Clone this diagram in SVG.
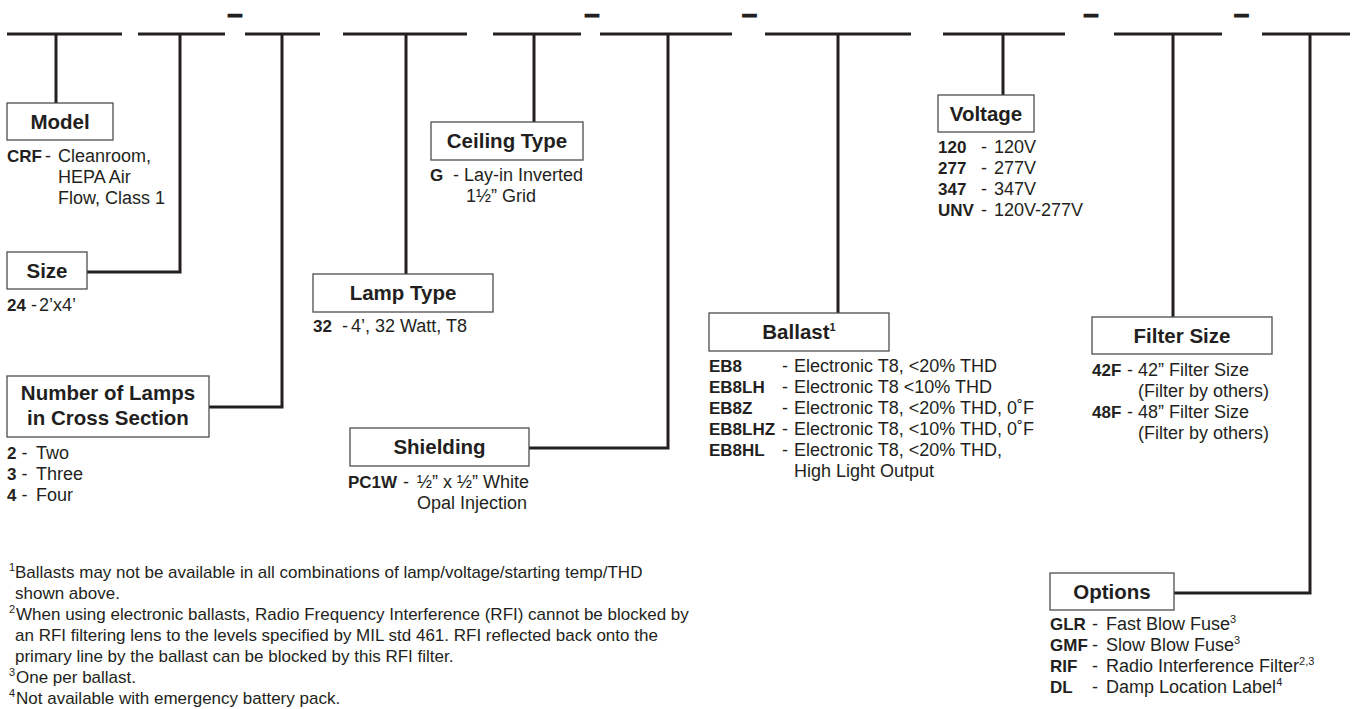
<svg xmlns="http://www.w3.org/2000/svg" width="1356" height="709" viewBox="0 0 1356 709">
<style>
.ln{stroke:#231f20;stroke-width:3;fill:none}
.bx{fill:#fff;stroke:#4d4d4d;stroke-width:1.3}
text{font-family:"Liberation Sans",Arial,sans-serif;fill:#231f20}
.t{font-size:18px}
.b{font-weight:bold;font-size:17px}
.h{font-size:20.5px;font-weight:bold;text-anchor:middle}
.fn{font-size:17px}
.sup{font-size:11px}
.dash{font-size:22px;font-weight:bold;text-anchor:middle;stroke:#231f20;stroke-width:1.2}
</style>
<rect width="1356" height="709" fill="#fff"/>
<g id="code-line">
<line class="ln" x1="7" y1="34" x2="122" y2="34"/>
<line class="ln" x1="138" y1="34" x2="225" y2="34"/>
<line class="ln" x1="245" y1="34" x2="320" y2="34"/>
<line class="ln" x1="343" y1="34" x2="467" y2="34"/>
<line class="ln" x1="493" y1="34" x2="581" y2="34"/>
<line class="ln" x1="600" y1="34" x2="732" y2="34"/>
<line class="ln" x1="765" y1="34" x2="911" y2="34"/>
<line class="ln" x1="943" y1="34" x2="1065" y2="34"/>
<line class="ln" x1="1114" y1="34" x2="1222" y2="34"/>
<line class="ln" x1="1262" y1="34" x2="1350" y2="34"/>
<text class="dash" x="235" y="20.5" textLength="16" lengthAdjust="spacingAndGlyphs">-</text>
<text class="dash" x="592" y="20.5" textLength="16" lengthAdjust="spacingAndGlyphs">-</text>
<text class="dash" x="749.5" y="20.5" textLength="16" lengthAdjust="spacingAndGlyphs">-</text>
<text class="dash" x="1091" y="20.5" textLength="16" lengthAdjust="spacingAndGlyphs">-</text>
<text class="dash" x="1241.5" y="20.5" textLength="16" lengthAdjust="spacingAndGlyphs">-</text>
</g>
<g id="connectors">
<polyline class="ln" points="56,34 56,103"/>
<polyline class="ln" points="180,34 180,272 87,272"/>
<polyline class="ln" points="282,34 282,407 209,407"/>
<polyline class="ln" points="406,34 406,274"/>
<polyline class="ln" points="534,34 534,122"/>
<polyline class="ln" points="668,34 668,448 529,448"/>
<polyline class="ln" points="838,34 838,313"/>
<polyline class="ln" points="1003,34 1003,95"/>
<polyline class="ln" points="1173,34 1173,317"/>
<polyline class="ln" points="1310,34 1310,593 1174,593"/>
</g>
<g id="model">
<rect class="bx" x="7" y="103" width="106" height="37"/>
<text class="h" x="60" y="129">Model</text>
<text class="b" x="7" y="162">CRF</text><text class="t" x="45" y="162">-</text>
<text class="t" x="58" y="162">Cleanroom,</text>
<text class="t" x="58" y="183">HEPA Air</text>
<text class="t" x="58" y="204">Flow, Class 1</text>
</g>
<g id="size">
<rect class="bx" x="7" y="252" width="80" height="37"/>
<text class="h" x="47" y="278">Size</text>
<text class="t" x="7" y="311"><tspan class="b">24</tspan> -<tspan x="39">2’x4’</tspan></text>
</g>
<g id="lamps">
<rect class="bx" x="7" y="376" width="202" height="61"/>
<text class="h" x="108" y="400">Number of Lamps</text>
<text class="h" x="108" y="425">in Cross Section</text>
<text class="t" x="7" y="459"><tspan class="b">2</tspan> -<tspan x="36">Two</tspan></text>
<text class="t" x="7" y="480"><tspan class="b">3</tspan> -<tspan x="36">Three</tspan></text>
<text class="t" x="7" y="501"><tspan class="b">4</tspan> -<tspan x="36">Four</tspan></text>
</g>
<g id="lamp-type">
<rect class="bx" x="313" y="274" width="180" height="38"/>
<text class="h" x="403" y="300">Lamp Type</text>
<text class="t" x="313" y="332"><tspan class="b">32</tspan><tspan x="342">-</tspan><tspan x="351">4’, 32 Watt, T8</tspan></text>
</g>
<g id="ceiling-type">
<rect class="bx" x="431" y="122" width="152" height="38"/>
<text class="h" x="507" y="148">Ceiling Type</text>
<text class="t" x="430" y="181"><tspan class="b">G</tspan><tspan x="453">-</tspan><tspan x="464">Lay-in Inverted</tspan></text>
<text class="t" x="466" y="202">1½” Grid</text>
</g>
<g id="shielding">
<rect class="bx" x="350" y="428" width="179" height="38"/>
<text class="h" x="439.5" y="454">Shielding</text>
<text class="t" x="348" y="488"><tspan class="b">PC1W</tspan><tspan x="403">-</tspan><tspan x="417">½” x ½” White</tspan></text>
<text class="t" x="417" y="509">Opal Injection</text>
</g>
<g id="ballast">
<rect class="bx" x="709" y="313" width="180" height="38"/>
<text class="h" x="799" y="339">Ballast<tspan class="sup" dy="-8">1</tspan></text>
<text class="b" x="709" y="372">EB8</text><text class="t" x="782" y="372">-</text><text class="t" x="794" y="372">Electronic T8, &lt;20% THD</text>
<text class="b" x="709" y="393">EB8LH</text><text class="t" x="782" y="393">-</text><text class="t" x="794" y="393">Electronic T8 &lt;10% THD</text>
<text class="b" x="709" y="414">EB8Z</text><text class="t" x="782" y="414">-</text><text class="t" x="794" y="414">Electronic T8, &lt;20% THD, 0˚F</text>
<text class="b" x="709" y="435">EB8LHZ</text><text class="t" x="782" y="435">-</text><text class="t" x="794" y="435">Electronic T8, &lt;10% THD, 0˚F</text>
<text class="b" x="709" y="456">EB8HL</text><text class="t" x="782" y="456">-</text><text class="t" x="794" y="456">Electronic T8, &lt;20% THD,</text>
<text class="t" x="794" y="477">High Light Output</text>
</g>
<g id="voltage">
<rect class="bx" x="938" y="95" width="96" height="37"/>
<text class="h" x="986" y="121">Voltage</text>
<text class="b" x="938" y="153">120</text><text class="t" x="981" y="153">-</text><text class="t" x="994" y="153">120V</text>
<text class="b" x="938" y="174">277</text><text class="t" x="981" y="174">-</text><text class="t" x="994" y="174">277V</text>
<text class="b" x="938" y="195">347</text><text class="t" x="981" y="195">-</text><text class="t" x="994" y="195">347V</text>
<text class="b" x="938" y="216">UNV</text><text class="t" x="981" y="216">-</text><text class="t" x="994" y="216">120V-277V</text>
</g>
<g id="filter-size">
<rect class="bx" x="1092" y="317" width="180" height="37"/>
<text class="h" x="1182" y="343">Filter Size</text>
<text class="b" x="1092" y="376">42F</text><text class="t" x="1127" y="376">-</text><text class="t" x="1138" y="376">42” Filter Size</text>
<text class="t" x="1138" y="397">(Filter by others)</text>
<text class="b" x="1092" y="418">48F</text><text class="t" x="1127" y="418">-</text><text class="t" x="1138" y="418">48” Filter Size</text>
<text class="t" x="1138" y="439">(Filter by others)</text>
</g>
<g id="options">
<rect class="bx" x="1050" y="573" width="124" height="37"/>
<text class="h" x="1112" y="599">Options</text>
<text class="b" x="1050" y="630">GLR</text><text class="t" x="1092" y="630">-</text><text class="t" x="1106" y="630">Fast Blow Fuse<tspan class="sup" dy="-7">3</tspan></text>
<text class="b" x="1050" y="651">GMF</text><text class="t" x="1092" y="651">-</text><text class="t" x="1106" y="651">Slow Blow Fuse<tspan class="sup" dy="-7">3</tspan></text>
<text class="b" x="1050" y="672">RIF</text><text class="t" x="1092" y="672">-</text><text class="t" x="1106" y="672">Radio Interference Filter<tspan class="sup" dy="-7">2,3</tspan></text>
<text class="b" x="1050" y="693">DL</text><text class="t" x="1092" y="693">-</text><text class="t" x="1106" y="693">Damp Location Label<tspan class="sup" dy="-7">4</tspan></text>
</g>
<g id="footnotes">
<text class="sup" x="9" y="571">1</text><text class="fn" x="15" y="578">Ballasts may not be available in all combinations of lamp/voltage/starting temp/THD</text>
<text class="fn" x="15" y="599">shown above.</text>
<text class="sup" x="9" y="613">2</text><text class="fn" x="16" y="620">When using electronic ballasts, Radio Frequency Interference (RFI) cannot be blocked by</text>
<text class="fn" x="15" y="641">an RFI filtering lens to the levels specified by MIL std 461. RFI reflected back onto the</text>
<text class="fn" x="15" y="662">primary line by the ballast can be blocked by this RFI filter.</text>
<text class="sup" x="9" y="676">3</text><text class="fn" x="16" y="683">One per ballast.</text>
<text class="sup" x="9" y="697">4</text><text class="fn" x="16" y="704">Not available with emergency battery pack.</text>
</g>
</svg>
